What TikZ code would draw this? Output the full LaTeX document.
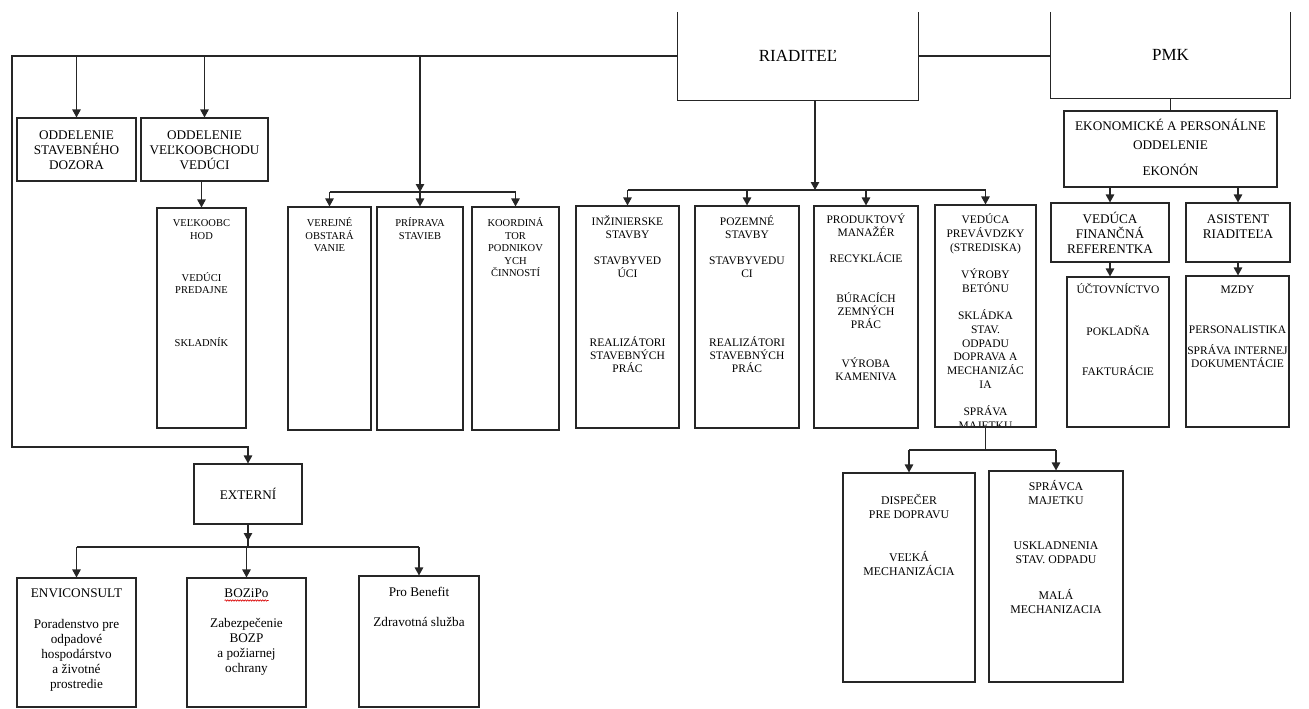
\documentclass[tikz,border=0pt]{standalone}
\usepackage{fontspec}
\setmainfont{Liberation Serif}
\usetikzlibrary{arrows.meta,decorations.pathmorphing}

\newcommand{\inbox}[4]{\parbox[c][#1][t]{#2}{\selectfont\lineskiplimit=-100pt\centering\rule{0pt}{#3}#4}}

\tikzset{
 ln/.style={draw=black!85, line width=1.1pt},
 arr/.style={ln, -{Triangle[width=8.5pt,length=8pt]}},
 unit/.style={draw=black!85, line width=1.1pt, inner sep=0pt},
 head/.style={inner sep=0pt, font=\fontsize{17}{20}\selectfont},
 large/.style={font=\fontsize{13.2}{15}\selectfont},
 mid/.style={font=\fontsize{11.5}{12.8}\selectfont},
 midt/.style={font=\fontsize{11.5}{13.7}\selectfont},
 midw/.style={font=\fontsize{11.8}{13.7}\selectfont},
 small/.style={font=\fontsize{10.5}{12.6}\selectfont}
}

\begin{document}
\begin{tikzpicture}[x=1pt, y=-1pt]
 \useasboundingbox (0,0) rectangle (1309,709);

 \node[head, minimum width=240pt, minimum height=88pt] (riad) at (798,56) {RIADITEĽ};
 \node[head, minimum width=239pt, minimum height=86pt] (pmk) at (1170.5,55) {PMK};
 \draw[ln] (riad.north west) |- (riad.south east) -- (riad.north east);
 \draw[ln] (pmk.north west) |- (pmk.south east) -- (pmk.north east);

 \node[unit, large] (odd1) at (76.5,149.5) {\inbox{63pt}{119pt}{21.4pt}{ODDELENIE\\STAVEBNÉHO\\DOZORA}};
 \node[unit, large] (odd2) at (204.5,149.5) {\inbox{63pt}{127pt}{21.4pt}{ODDELENIE\\VEĽKOOBCHODU\\VEDÚCI}};

 \node[unit, small] (vo) at (201.5,318) {\inbox{220pt}{89pt}{18.5pt}{VEĽKOOBC\\HOD\\[29.4pt]VEDÚCI\\PREDAJNE\\[40.4pt]SKLADNÍK}};
 \node[unit, small] (vp) at (329.5,318.5) {\inbox{223pt}{83pt}{19.5pt}{VEREJNÉ\\OBSTARÁ\\VANIE}};
 \node[unit, small] (pp) at (420,318.5) {\inbox{223pt}{86pt}{19.5pt}{PRÍPRAVA\\STAVIEB}};
 \node[unit, small] (ko) at (515.5,318.5) {\inbox{223pt}{87pt}{19.5pt}{KOORDINÁ\\TOR\\PODNIKOV\\YCH\\ČINNOSTÍ}};

 \node[unit, mid] (inz) at (627.5,317) {\inbox{222pt}{103pt}{19.8pt}{INŽINIERSKE\\STAVBY\\[13.2pt]STAVBYVED\\ÚCI\\[56.2pt]REALIZÁTORI\\STAVEBNÝCH\\PRÁC}};
 \node[unit, mid] (po) at (747,317) {\inbox{222pt}{104pt}{19.8pt}{POZEMNÉ\\STAVBY\\[13.2pt]STAVBYVEDU\\CI\\[56.2pt]REALIZÁTORI\\STAVEBNÝCH\\PRÁC}};
 \node[unit, mid] (pr) at (866,317) {\inbox{222pt}{104pt}{17.8pt}{PRODUKTOVÝ\\MANAŽÉR\\[13.2pt]RECYKLÁCIE\\[27.2pt]BÚRACÍCH\\ZEMNÝCH\\PRÁC\\[26.2pt]VÝROBA\\KAMENIVA}};
 \node[unit, minimum width=101pt, minimum height=222pt,
  path picture={\node[inner sep=0pt, anchor=north, midt] (vdtxt) at (path picture bounding box.north) {\inbox{222pt}{101pt}{18.3pt}{VEDÚCA\\PREVÁVDZKY\\(STREDISKA)\\[13.7pt]VÝROBY\\BETÓNU\\[13.7pt]SKLÁDKA\\STAV.\\ODPADU\\DOPRAVA A\\MECHANIZÁC\\IA\\[13.7pt]SPRÁVA\\MAJETKU}};}] (vd) at (985.5,316) {};

 \node[unit, midw] (dp) at (909,577.5) {\inbox{209pt}{132pt}{31.9pt}{DISPEČER\\PRE DOPRAVU\\[29.3pt]VEĽKÁ\\MECHANIZÁCIA}};
 \node[unit, midw] (sm) at (1056,576.5) {\inbox{211pt}{134pt}{19.9pt}{SPRÁVCA\\MAJETKU\\[31.3pt]USKLADNENIA\\STAV. ODPADU\\[22.3pt]MALÁ\\MECHANIZACIA}};

 \node[unit, large] (ek) at (1170.5,149) {\inbox{76pt}{213pt}{19.4pt}{EKONOMICKÉ A PERSONÁLNE\\[4pt]ODDELENIE\\[11pt]EKONÓN}};
 \node[unit, large] (vf) at (1110,232.5) {\inbox{59pt}{118pt}{20.4pt}{VEDÚCA\\FINANČNÁ\\REFERENTKA}};
 \node[unit, large] (asis) at (1238,232.5) {\inbox{59pt}{104pt}{20.4pt}{ASISTENT\\RIADITEĽA}};
 \node[unit, mid] (uc) at (1118,352) {\inbox{150pt}{102pt}{16.8pt}{ÚČTOVNÍCTVO\\[29.2pt]POKLADŇA\\[27.2pt]FAKTURÁCIE}};
 \node[unit, mid] (mz) at (1237.5,351.5) {\inbox{151pt}{103pt}{17.8pt}{MZDY\\[27.2pt]PERSONALISTIKA\\[8.2pt]\mbox{SPRÁVA INTERNEJ}\\DOKUMENTÁCIE}};

 \node[unit, large] (ex) at (248,494) {\inbox{60pt}{108pt}{35.4pt}{EXTERNÍ}};
 \node[unit, large] (en) at (76.5,642.5) {\inbox{129pt}{119pt}{19.4pt}{ENVICONSULT\\[16pt]Poradenstvo pre\\odpadové\\hospodárstvo\\a životné\\prostredie}};
 \node[unit, large] (bo) at (246.5,642.5) {\inbox{129pt}{119pt}{19.4pt}{BOZiPo\\[15pt]Zabezpečenie\\BOZP\\a požiarnej\\ochrany}};
 \node[unit, large] (pb) at (419,641.5) {\inbox{131pt}{120pt}{20.4pt}{Pro Benefit\\[15pt]Zdravotná služba}};

 \coordinate (lcorner) at (12,447);
 \coordinate (ljunc) at (420,192);
 \coordinate (mjunc) at (815,190);
 \coordinate (bjunc) at (985.5,450);
 \coordinate (ejunc) at (248,547);

 \draw[arr] (riad.west) -| (lcorner) -| (ex.north);
 \foreach \n in {odd1,odd2} \draw[arr] (riad.west -| \n.north) -- (\n.north);
 \draw[arr] (odd2.south -| vo.north) -- (vo.north);
 \draw[arr] (riad.west -| ljunc) -- (ljunc);
 \draw[ln] (vp.north |- ljunc) -- (ko.north |- ljunc);
 \foreach \n in {vp,pp,ko} \draw[arr] (\n.north |- ljunc) -- (\n.north);

 \draw[arr] (riad.south -| mjunc) -- (mjunc);
 \draw[ln] (inz.north |- mjunc) -- (vd.north |- mjunc);
 \foreach \n in {inz,po,pr,vd} \draw[arr] (\n.north |- mjunc) -- (\n.north);
 \draw[ln] (vd.south) -- (bjunc);
 \draw[ln] (dp.north |- bjunc) -- (sm.north |- bjunc);
 \foreach \n in {dp,sm} \draw[arr] (\n.north |- bjunc) -- (\n.north);

 \draw[ln] (riad.east) -- (riad.east -| pmk.west);
 \draw[ln] (pmk.south) -- (ek.north);
 \foreach \n in {vf,asis} \draw[arr] (ek.south -| \n.north) -- (\n.north);
 \draw[arr] (vf.south) -- (vf.south |- uc.north);
 \draw[arr] (asis.south) -- (asis.south |- mz.north);

 \draw[ln] (ex.south) -- (ejunc);
 \draw[arr] (ex.south) -- ([shift={(0,-6)}]ejunc);
 \draw[ln] (en.north |- ejunc) -- (pb.north |- ejunc);
 \foreach \n in {en,bo,pb} \draw[arr] (\n.north |- ejunc) -- (\n.north);
 \draw[red!85!black, line width=0.6pt, decorate, decoration={snake, amplitude=0.7pt, segment length=2.5pt}] ([shift={(-22,23)}]bo.north) -- ([shift={(22,23)}]bo.north);
\end{tikzpicture}
\end{document}
